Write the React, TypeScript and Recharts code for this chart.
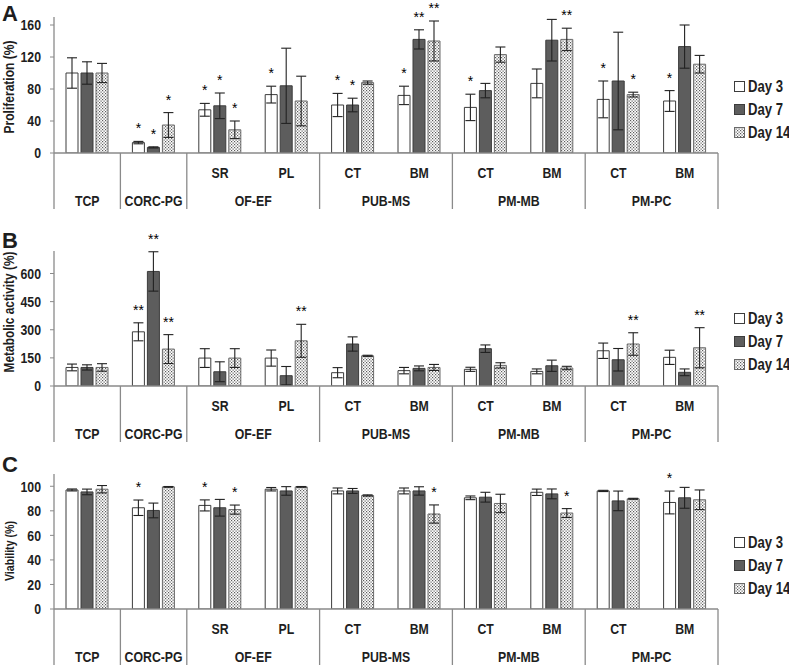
import { BarChart, Bar, XAxis, YAxis, ErrorBar, LabelList } from "recharts";

const groups = ["TCP", "CORC-PG", "OF-EF", "OF-EF", "PUB-MS", "PUB-MS", "PM-MB", "PM-MB", "PM-PC", "PM-PC"];
const subLabels = ["", "", "SR", "PL", "CT", "BM", "CT", "BM", "CT", "BM"];

// A - proliferation (%)
const prolifDay3 = [100, 13, 54, 73, 60, 72, 57, 87, 67, 65];
const prolifDay3Err = [19, 1.5, 8, 10.5, 14.5, 11.5, 16.5, 18, 23, 13];
const prolifDay7 = [100, 7, 59, 84, 60, 142, 78, 141, 90, 133];
const prolifDay7Err = [14, 0.7, 16, 47, 8.5, 12, 9, 26, 61, 27];
const prolifDay14 = [100, 35, 29, 65, 88, 140, 123, 142, 73, 111];
const prolifDay14Err = [12, 15.5, 11, 31, 2, 25, 9.5, 14, 3, 11];
const prolifSig3 = ["", "*", "*", "*", "*", "*", "*", "", "*", "*"];
const prolifSig7 = ["", "*", "*", "", "*", "**", "", "", "", ""];
const prolifSig14 = ["", "*", "*", "", "", "**", "", "**", "*", ""];

// B - metabolic activity (%)
const metabDay3 = [99, 289, 149, 149, 71, 82, 89, 78, 188, 153];
const metabDay3Err = [18, 48, 50, 43, 27, 17, 11, 13, 41, 38];
const metabDay7 = [99, 611, 76, 55, 224, 94, 199, 108, 140, 73];
const metabDay7Err = [14, 105, 53, 49, 38, 13, 20, 30, 60, 18];
const metabDay14 = [99, 197, 149, 241, 161, 99, 110, 96, 224, 204];
const metabDay14Err = [20, 77, 50, 88, 3, 16, 14, 9, 60, 107];
const metabSig3 = ["", "**", "", "", "", "", "", "", "", ""];
const metabSig7 = ["", "**", "", "", "", "", "", "", "", ""];
const metabSig14 = ["", "**", "", "**", "", "", "", "", "**", "**"];

// C - viability (%)
const viabDay3 = [97, 82.5, 84.4, 97.6, 96.2, 96.2, 90.6, 95.1, 96.2, 86.8];
const viabDay3Err = [0.8, 6.3, 4.5, 1.4, 2.4, 2.4, 1.5, 2.6, 0.5, 9.3];
const viabDay7 = [95.4, 80.3, 82.5, 96.2, 96.2, 96.2, 91.1, 93.8, 88.1, 90.6];
const viabDay7Err = [2.3, 6, 6.8, 3.5, 2, 3.4, 4, 4, 8, 8.5];
const viabDay14 = [97.6, 99.5, 81, 99.5, 92.5, 77.4, 86, 78.2, 89.8, 89];
const viabDay14Err = [3, 0.3, 3.7, 0.3, 0.5, 7.4, 7.5, 3.6, 0.4, 8];
const viabSig3 = ["", "*", "*", "", "", "", "", "", "", "*"];
const viabSig7 = ["", "", "", "", "", "", "", "", "", ""];
const viabSig14 = ["", "", "*", "", "", "*", "", "*", "", ""];

const seriesNames = ["Day 3", "Day 7", "Day 14"];

const W = 789;
const H = 667;
const PLOT_LEFT = 54;
const PLOT_RIGHT = 718;
const SLOT = (PLOT_RIGHT - PLOT_LEFT) / groups.length;
const FONT = "'Liberation Sans', Arial, sans-serif";
const NARROW = 0.82; // no Arial Narrow here, so squeeze Liberation Sans
const AXIS = "#8a8a8a";
const INK = "#1e1e1e";
const EDGE = "#3c3c3c";
const DARK = "#5d5d5d";

function buildRows(
  v3: number[], e3: number[], s3: string[],
  v7: number[], e7: number[], s7: string[],
  v14: number[], e14: number[], s14: string[]
) {
  return groups.map((g, i) => ({
    key: `${g} ${subLabels[i]}`.trim(),
    d3: v3[i], e3: e3[i], s3: s3[i],
    d7: v7[i], e7: e7[i], s7: s7[i],
    d14: v14[i], e14: e14[i], s14: s14[i],
  }));
}

function NarrowText({ x, y, size = 15, anchor = "middle", rotate = 0, children }: any) {
  return (
    <text
      transform={`translate(${x},${y}) rotate(${rotate}) scale(${NARROW},1)`}
      textAnchor={anchor}
      dy="0.35em"
      fontSize={size}
      fontWeight="bold"
      fill={INK}
      fontFamily={FONT}
    >
      {children}
    </text>
  );
}

function sigLabel(values: number[], errs: number[]) {
  return (props: any) => {
    const vb = props.viewBox ?? props;
    const { x, y, width, height } = vb;
    const i = props.index;
    const txt = props.value;
    if (!txt || i == null) return null;
    const ppu = Math.abs(height) / values[i];
    const top = y - errs[i] * ppu;
    return (
      <text x={x + width / 2} y={top - 8} textAnchor="middle" fontSize={14} fill="#000" fontFamily={FONT}>
        {txt}
      </text>
    );
  };
}

function YTick(props: any) {
  const { x, y, payload } = props;
  return (
    <NarrowText x={x} y={y} anchor="end">
      {payload.value}
    </NarrowText>
  );
}

function GroupTick(props: any) {
  const { x, y, payload } = props;
  const i = props.index ?? payload.index;
  const sub = subLabels[i];
  const g = groups[i];
  const first = i === 0 || groups[i - 1] !== g;
  const last = i === groups.length - 1;
  let span = 0;
  for (let k = i; k < groups.length && groups[k] === g; k++) span++;
  const left = x - SLOT / 2;
  return (
    <g>
      {sub && (
        <NarrowText x={x} y={y + 20}>
          {sub}
        </NarrowText>
      )}
      {first && (
        <>
          <line x1={left} x2={left} y1={y} y2={y + 56} stroke={AXIS} strokeWidth={1.3} />
          <NarrowText x={left + (span * SLOT) / 2} y={y + 48}>
            {g}
          </NarrowText>
        </>
      )}
      {last && <line x1={x + SLOT / 2} x2={x + SLOT / 2} y1={y} y2={y + 56} stroke={AXIS} strokeWidth={1.3} />}
    </g>
  );
}

type PanelProps = {
  id: string;
  title: string;
  titleSize: number;
  titleY: number;
  top: number;
  marginTop: number;
  plotH: number;
  domain: [number, number];
  ticks: number[];
  rows: any[];
  vals: number[][];
  errs: number[][];
  legendTop: number;
};

function Panel(p: PanelProps) {
  const h = p.marginTop + p.plotH + 60;
  const fills = ["#ffffff", DARK, `url(#dots-${p.id})`];
  const strokes = [EDGE, EDGE, "#6a6a6a"];
  const keys = ["d3", "d7", "d14"];
  const errKeys = ["e3", "e7", "e14"];
  const sigKeys = ["s3", "s7", "s14"];
  return (
    <div style={{ position: "absolute", left: 0, top: p.top, width: W, height: h }}>
      <BarChart
        width={W}
        height={h}
        data={p.rows}
        margin={{ top: p.marginTop, right: W - PLOT_RIGHT, left: 0, bottom: 0 }}
        barSize={12}
        barGap={3}
      >
        <defs>
          <pattern id={`dots-${p.id}`} width={3} height={3} patternUnits="userSpaceOnUse">
            <rect width={3} height={3} fill="#ffffff" />
            <rect x={0} y={0} width={1.2} height={1.2} fill="#5a5a5a" />
            <rect x={1.5} y={1.5} width={1.2} height={1.2} fill="#5a5a5a" />
          </pattern>
        </defs>
        <XAxis
          dataKey="key"
          interval={0}
          height={60}
          tickSize={0}
          tickMargin={0}
          tickLine={false}
          axisLine={{ stroke: AXIS, strokeWidth: 1.3 }}
          tick={<GroupTick />}
        />
        <YAxis
          width={PLOT_LEFT}
          domain={p.domain}
          ticks={p.ticks}
          allowDataOverflow
          tickSize={4}
          tickMargin={9}
          axisLine={{ stroke: AXIS, strokeWidth: 1.3 }}
          tickLine={{ stroke: AXIS }}
          tick={<YTick />}
        />
        {keys.map((k, s) => (
          <Bar key={k} dataKey={k} name={seriesNames[s]} fill={fills[s]} stroke={strokes[s]} strokeWidth={1} isAnimationActive={false}>
            <ErrorBar dataKey={errKeys[s]} width={5} stroke="#222" strokeWidth={1.1} direction="y" />
            <LabelList dataKey={sigKeys[s]} content={sigLabel(p.vals[s], p.errs[s])} />
          </Bar>
        ))}
      </BarChart>
      <svg width={30} height={h} style={{ position: "absolute", left: 0, top: 0, pointerEvents: "none" }}>
        <NarrowText x={9} y={p.titleY} size={p.titleSize} rotate={-90}>
          {p.title}
        </NarrowText>
      </svg>
      <div
        style={{
          position: "absolute",
          left: 734,
          top: p.legendTop,
          fontFamily: FONT,
          fontWeight: "bold",
          fontSize: 16,
          color: INK,
          whiteSpace: "nowrap",
        }}
      >
        {seriesNames.map((n, s) => (
          <div key={n} style={{ display: "flex", alignItems: "center", height: 23 }}>
            <svg width={12} height={12} style={{ marginRight: 2 }}>
              <defs>
                <pattern id={`ldots-${p.id}`} width={3} height={3} patternUnits="userSpaceOnUse">
                  <rect width={3} height={3} fill="#ffffff" />
                  <rect x={0} y={0} width={1.2} height={1.2} fill="#5a5a5a" />
                  <rect x={1.5} y={1.5} width={1.2} height={1.2} fill="#5a5a5a" />
                </pattern>
              </defs>
              <rect x={0.5} y={0.5} width={10} height={10} fill={s === 2 ? `url(#ldots-${p.id})` : fills[s]} stroke={strokes[s]} />
            </svg>
            <span style={{ display: "inline-block", transform: `scaleX(${NARROW})`, transformOrigin: "left center" }}>{n}</span>
          </div>
        ))}
      </div>
    </div>
  );
}

export default function App() {
  const prolifRows = buildRows(prolifDay3, prolifDay3Err, prolifSig3, prolifDay7, prolifDay7Err, prolifSig7, prolifDay14, prolifDay14Err, prolifSig14);
  const metabRows = buildRows(metabDay3, metabDay3Err, metabSig3, metabDay7, metabDay7Err, metabSig7, metabDay14, metabDay14Err, metabSig14);
  const viabRows = buildRows(viabDay3, viabDay3Err, viabSig3, viabDay7, viabDay7Err, viabSig7, viabDay14, viabDay14Err, viabSig14);
  return (
    <div style={{ position: "absolute", left: 0, top: 0, width: W, height: H, background: "#fff", overflow: "hidden" }}>
      <Panel
        id="a" title="Proliferation (%)" titleSize={14.7} titleY={87}
        top={0} marginTop={17} plotH={136} domain={[0, 170]} ticks={[0, 40, 80, 120, 160]}
        rows={prolifRows}
        vals={[prolifDay3, prolifDay7, prolifDay14]}
        errs={[prolifDay3Err, prolifDay7Err, prolifDay14Err]}
        legendTop={75}
      />
      <Panel
        id="b" title="Metabolic activity (%)" titleSize={14.5} titleY={82}
        top={230} marginTop={21} plotH={135} domain={[0, 720]} ticks={[0, 150, 300, 450, 600]}
        rows={metabRows}
        vals={[metabDay3, metabDay7, metabDay14]}
        errs={[metabDay3Err, metabDay7Err, metabDay14Err]}
        legendTop={77}
      />
      <Panel
        id="c" title="Viability (%)" titleSize={13} titleY={91}
        top={460} marginTop={14} plotH={135} domain={[0, 110]} ticks={[0, 20, 40, 60, 80, 100]}
        rows={viabRows}
        vals={[viabDay3, viabDay7, viabDay14]}
        errs={[viabDay3Err, viabDay7Err, viabDay14Err]}
        legendTop={71}
      />
      <svg width={30} height={H} style={{ position: "absolute", left: 0, top: 0, pointerEvents: "none" }}>
        <text x={2} y={21} fontSize={22} fontWeight="bold" fill={INK} fontFamily={FONT}>A</text>
        <text x={2} y={248} fontSize={22} fontWeight="bold" fill={INK} fontFamily={FONT}>B</text>
        <text x={2} y={472} fontSize={22} fontWeight="bold" fill={INK} fontFamily={FONT}>C</text>
      </svg>
    </div>
  );
}
